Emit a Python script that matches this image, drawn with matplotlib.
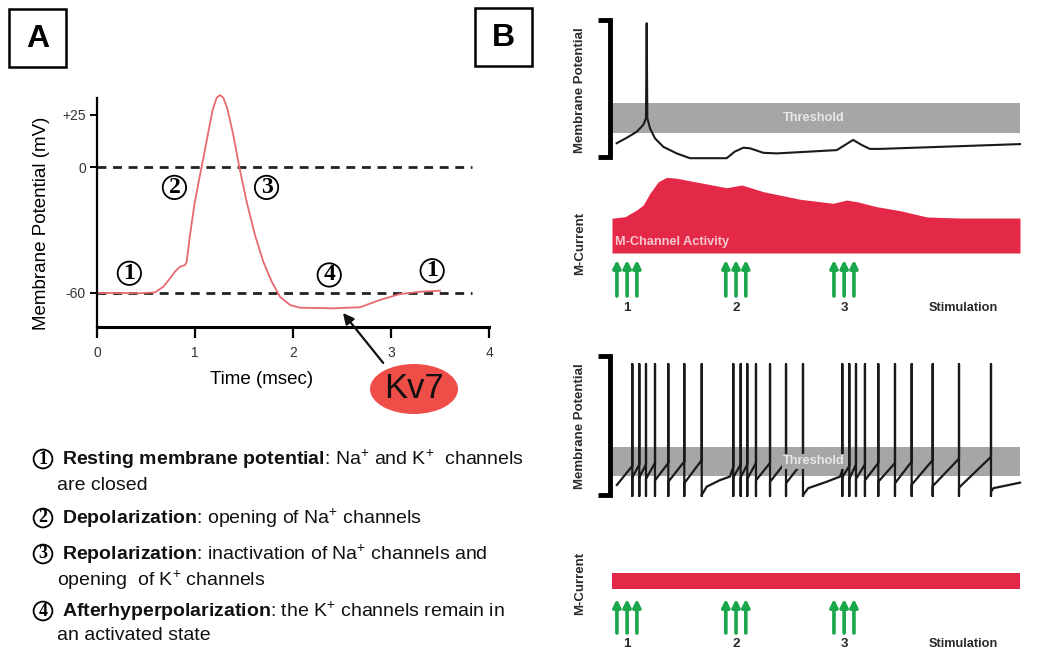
import matplotlib
matplotlib.use("Agg")
import matplotlib.pyplot as plt
from matplotlib.patches import Ellipse, Rectangle

W, H = 1059, 650

# ---------------- panel A: action potential ----------------
ap_time = [0.0, 0.439, 0.592, 0.677, 0.745, 0.796, 0.847, 0.898, 0.915, 0.949,
           0.993, 1.044, 1.085, 1.136, 1.18, 1.221, 1.255, 1.289, 1.33, 1.391,
           1.452, 1.527, 1.612, 1.697, 1.783, 1.867, 1.969, 2.071, 2.41, 2.684,
           2.888, 3.09, 3.296, 3.5]
ap_mv = [-60, -60.1, -59.7, -57, -53, -49.8, -47.5, -46.7, -45.1, -32.4,
         -18.1, -5.4, 4.1, 16.8, 27.1, 33, 34.3, 33, 27.9, 15.2,
         0.1, -16.5, -32.4, -45.1, -54.6, -61.8, -65.7, -67, -67.3, -66.8,
         -63.3, -60.5, -59.4, -58.9]
a_xticks = [0, 1, 2, 3, 4]
a_yticks = [25, 0, -60]
a_yticklabels = ["+25", "0", "-60"]
ref_levels = [0, -60]
phase_num = ["1", "2", "3", "4", "1"]
phase_t = [0.33, 0.79, 1.73, 2.37, 3.42]
phase_mv = [-50.6, -9.7, -9.7, -51.4, -49.4]
kv7_point = (2.51, -69.5)

legend_lines = [
    ("1", r"$\mathbf{Resting\ membrane\ potential}$: Na${}^{+}$ and K${}^{+}$  channels"),
    (None, "are closed"),
    ("2", r"$\mathbf{Depolarization}$: opening of Na${}^{+}$ channels"),
    ("3", r"$\mathbf{Repolarization}$: inactivation of Na${}^{+}$ channels and"),
    (None, "opening  of K${}^{+}$ channels"),
    ("4", r"$\mathbf{Afterhyperpolarization}$: the K${}^{+}$ channels remain in"),
    (None, "an activated state"),
]
legend_y = [459, 485, 518, 554, 580, 611, 635]

# ---------------- panel B: M-current schematic ----------------
threshold_lo, threshold_hi = -55, -45
stim_t = [1.2, 3.7, 6.1, 27.9, 30.4, 32.8, 54.4, 56.9, 59.3]
stim_labels = ["1", "2", "3"]
stim_label_t = [3.7, 30.4, 56.9]

# control: single spike then subthreshold bumps
vctl_t = [1.15, 3.6, 6.05, 7.67, 8.33, 8.5, 8.66, 9.31, 10.54, 12.57, 15.86, 19.1,
          28.1, 30.1, 32.2, 33.8, 37.1, 40.4, 55.1, 57.1, 59.1, 61.2, 63.2, 65.7, 100]
vctl_mv = [-58.4, -56.6, -54.6, -52.3, -50.1, -18.4, -50.1, -53.4, -56.8, -59.6, -61.8, -63.4,
           -63.4, -61.2, -59.9, -60.1, -61.6, -61.8, -60.7, -59, -57.3, -59, -60.3, -60.3, -58.7]

mcur_t = [0, 3.2, 6.05, 7.67, 9.3, 11.35, 13.4, 15.9, 21.6, 28.1, 31.8, 37.1,
          46.1, 54.2, 57.5, 60.0, 64.9, 70.6, 77.2, 85.3, 100]
mcur_a = [45.7, 47.8, 56.6, 63.2, 78.6, 93.8, 99.6, 98.3, 92.5, 85.9, 89.5, 80.7,
          70.7, 65.4, 69.7, 67.5, 60.9, 55.7, 47.4, 46, 46]

# M-current blocked: repetitive firing
spike_t = [4.98, 6.69, 8.33, 10.54, 13.8, 17.72, 21.99,
           29.73, 31.54, 33.16, 35.29, 38.73, 42.65, 46.81,
           56.45, 58.16, 59.8, 62.0, 65.27, 69.36, 73.45, 78.6, 85.05, 92.89]
spike_pre = [-51.5, -51, -51, -50.5, -50.5, -50, -49.5,
             -51.8, -51, -51, -50.5, -50.5, -50, -50,
             -52.9, -51.5, -51, -51, -50.5, -50.5, -50, -49.5, -49, -48.4]
spike_post = [-55.5, -55.5, -56, -56.5, -57, -57.5, -61.6,
              -55.5, -55.5, -56, -56.5, -57, -57.5, -61.6,
              -55.5, -56, -56, -56.5, -57, -57.5, -58, -58.5, -59, -60.4]
spike_peak, spike_floor = -16.4, -61.9
block_start = (1.2, -58.1)
knee_after = {6: ([23.2, 26.5, 28.9], [-58.7, -56.4, -55.2]),
              13: ([48.1, 52.6, 55.9], [-59.2, -57.0, -55.2]),
              23: ([93.5, 100], [-59.2, -57.3])}
mcur_block_a = [21, 21]
mcur_block_t = [0, 100]

RED = "#e42848"
GREEN = "#1aa64a"
GRAY = "#a6a6a6"
NARROW = ["Liberation Sans Narrow", "Liberation Sans", "DejaVu Sans"]
BFS = 9.2

plt.rcParams["font.family"] = ["Liberation Sans", "DejaVu Sans"]
plt.rcParams["mathtext.fontset"] = "custom"
plt.rcParams["mathtext.rm"] = "Liberation Sans"
plt.rcParams["mathtext.bf"] = "Liberation Sans:bold"
plt.rcParams["mathtext.it"] = "Liberation Sans:italic"


def fx(x):
    return x / W


def fy(y):
    return 1 - y / H


def px_axes(fig, x0, y0, x1, y1):
    return fig.add_axes([fx(x0), fy(y1), (x1 - x0) / W, (y1 - y0) / H])


def circled(ax_or_fig, x, y, num, size, **kw):
    ax_or_fig.text(x, y, num, ha="center", va="center", fontsize=size,
                   family="Liberation Serif", weight="bold",
                   bbox=dict(boxstyle="circle,pad=0.05", fc="none", ec="black", lw=1.3), **kw)


fig = plt.figure(figsize=(W / 100, H / 100), dpi=100)
fig.patch.set_facecolor("white")

# panel letters
for letter, x0, y0 in [("A", 9, 9), ("B", 475, 8)]:
    fig.add_artist(Rectangle((fx(x0), fy(y0 + 58)), 57 / W, 58 / H, transform=fig.transFigure,
                             fill=False, ec="black", lw=1.8))
    fig.text(fx(x0 + 28.5), fy(y0 + 30), letter, ha="center", va="center",
             fontsize=23, weight="bold")

# ---- A ----
ax = px_axes(fig, 97, 98, 489, 327)
ax.set_xlim(0, 4)
ax.set_ylim(-76.2, 32.9)
for lvl in ref_levels:
    ax.plot([0, 3.83], [lvl, lvl], color="#222222", lw=2, dashes=(3.2, 2.4))
ax.plot(ap_time, ap_mv, color="#e66a70", lw=1.3, clip_on=False)
for n, t, v in zip(phase_num, phase_t, phase_mv):
    circled(ax, t, v, n, 17)
ax.spines[["top", "right"]].set_visible(False)
ax.spines["left"].set_linewidth(1.6)
ax.spines["bottom"].set_linewidth(2.2)
ax.set_xticks(a_xticks)
ax.set_yticks(a_yticks)
ax.set_yticklabels(a_yticklabels)
ax.tick_params(axis="x", length=8, width=1.6, pad=6, labelsize=10, labelcolor="#333")
ax.tick_params(axis="y", length=5, width=1.4, pad=3, labelsize=10, labelcolor="#333")
ax.set_xlabel("Time (msec)", fontsize=13.5, labelpad=0)
ax.xaxis.set_label_coords((262 - 97) / 392, -(371 - 327) / 229)
ax.set_ylabel("Membrane Potential (mV)", fontsize=13.5)
ax.yaxis.set_label_coords(-(97 - 50) / 392, (327 - 223) / 229)
ax.annotate("", xy=kv7_point, xytext=(2.92, -93.3), annotation_clip=False,
            arrowprops=dict(arrowstyle="-|>", color="#111111", lw=1.6,
                            mutation_scale=16, shrinkA=0, shrinkB=0))
fig.add_artist(Ellipse((fx(414), fy(389)), 88 / W, 50 / H, transform=fig.transFigure,
                       fc="#ef4d47", ec="none"))
fig.text(fx(414), fy(389), "Kv7", ha="center", va="center", fontsize=25, color="#111111")

# legend text
for (num, txt), y in zip(legend_lines, legend_y):
    if num is None:
        fig.text(fx(57), fy(y), txt, ha="left", va="center", fontsize=14, color="#111")
    else:
        circled(fig, fx(43), fy(y), num, 13, transform=fig.transFigure)
        fig.text(fx(62), fy(y), txt, ha="left", va="center", fontsize=14, color="#111")


# ---- B helpers ----
def side_label(y, txt):
    fig.text(fx(580), fy(y), txt, rotation=90, ha="center", va="center",
             fontsize=BFS + 0.3, family=NARROW, weight="bold", color="#2a2a2a")


def bracket(ax, top, bottom):
    ax.plot([-3.4, -0.5, -0.5, -3.4], [top, top, bottom, bottom], color="black",
            lw=3.5, clip_on=False, solid_joinstyle="miter", solid_capstyle="butt")


def stim_row(ax):
    ax.set_xlim(0, 100)
    ax.set_ylim(0, 1)
    ax.axis("off")
    for t in stim_t:
        ax.annotate("", xy=(t, 1), xytext=(t, 0),
                    arrowprops=dict(arrowstyle="-|>", color=GREEN, lw=2.6,
                                    mutation_scale=11, shrinkA=0, shrinkB=0))
    for lab, t in zip(stim_labels, stim_label_t):
        ax.text(t, -0.32, lab, ha="center", va="center", fontsize=BFS + 0.5,
                family=NARROW, weight="bold", color="#2a2a2a", clip_on=False)
    ax.text(86.0, -0.32, "Stimulation", ha="center", va="center", fontsize=BFS,
            family=NARROW, weight="bold", color="#2a2a2a", clip_on=False)


# ---- B top (control) ----
axv = px_axes(fig, 612, 20, 1020, 160)
axv.set_xlim(0, 100)
axv.set_ylim(-64, -17.33)
axv.axis("off")
axv.axhspan(threshold_lo, threshold_hi, color=GRAY, lw=0)
axv.text(49.5, -50, "Threshold", ha="center", va="center", fontsize=BFS,
         family=NARROW, weight="bold", color="#e8e8e8")
axv.plot(vctl_t, vctl_mv, color="#1a1a1a", lw=1.5, clip_on=False)
bracket(axv, -17.33, -63)
side_label(90, "Membrane Potential")

axc = px_axes(fig, 612, 177, 1020, 253)
axc.set_xlim(0, 100)
axc.set_ylim(0, 100)
axc.axis("off")
axc.fill_between(mcur_t, 0, mcur_a, color=RED, lw=0, clip_on=False)
axc.text(0.7, 14.5, "M-Channel Activity", ha="left", va="center", fontsize=BFS,
         family=NARROW, weight="bold", color="#f6c9d0")
side_label(243, "M-Current")

stim_row(px_axes(fig, 612, 260, 1020, 296))

# ---- B bottom (M-current blocked) ----
axv2 = px_axes(fig, 612, 356, 1020, 496)
axv2.set_xlim(0, 100)
axv2.set_ylim(-61.9, -13.62)
axv2.axis("off")
axv2.axhspan(threshold_lo, threshold_hi, color=GRAY, lw=0)
tr_t = [block_start[0]]
tr_v = [block_start[1]]
for i, t in enumerate(spike_t):
    tr_t += [t, t, t, t]
    tr_v += [spike_pre[i], spike_peak, spike_floor, spike_post[i]]
    if i in knee_after:
        tr_t += knee_after[i][0]
        tr_v += knee_after[i][1]
axv2.plot(tr_t, tr_v, color="#1a1a1a", lw=1.6, clip_on=False)
axv2.text(49.5, -50, "Threshold", ha="center", va="center", fontsize=BFS,
          family=NARROW, weight="bold", color="#e8e8e8", zorder=5,
          bbox=dict(boxstyle="square,pad=0.1", fc=GRAY, ec="none"))
bracket(axv2, -13.62, -61.6)
side_label(426, "Membrane Potential")

axc2 = px_axes(fig, 612, 513, 1020, 589)
axc2.set_xlim(0, 100)
axc2.set_ylim(0, 100)
axc2.axis("off")
axc2.fill_between(mcur_block_t, 0, mcur_block_a, color=RED, lw=0)
side_label(583, "M-Current")

stim_row(px_axes(fig, 612, 599, 1020, 633))

fig.savefig("out.png", dpi=100, facecolor="white")
